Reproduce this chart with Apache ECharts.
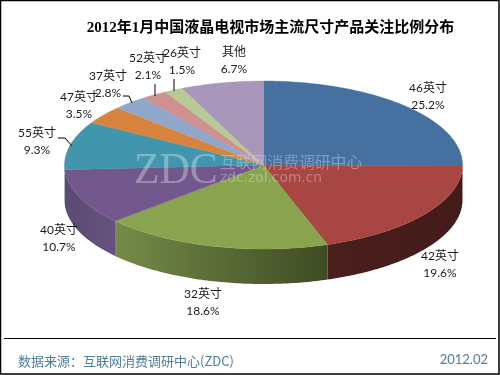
<!DOCTYPE html>
<html><head><meta charset="utf-8">
<style>html,body{margin:0;padding:0;background:#fff}#c{width:500px;height:375px}</style>
<script src="https://cdn.jsdelivr.net/npm/echarts@6/dist/echarts.min.js"></script>
</head><body><div id="c"></div>
<script>
const sizes = ['46英寸','42英寸','32英寸','40英寸','55英寸','47英寸','37英寸','52英寸','26英寸','其他'];
const shares = [25.2,19.6,18.6,10.7,9.3,3.5,2.8,2.1,1.5,6.7];
const topColors = ['#4670A0','#A84644','#89A34F','#71578C','#4196AE','#D8833D','#90A6CB','#CE9190','#B7CA95','#A897BA'];
const sideLeft = ['#3a5c84','#4a1f1d','#758B48','#5C4A72','#35798c','#a8652e','#7388a3','#a47372','#92a276','#867896'];
const sideRight = ['#3a5c84','#431B1A','#3F4B24','#66527F','#35798c','#a8652e','#7388a3','#a47372','#92a276','#867896'];
const titleText = '2012年1月中国液晶电视市场主流尺寸产品关注比例分布';
const sourceText = '数据来源：互联网消费调研中心(ZDC)';
const dateText = '2012.02';

const pie = {cx:263.5, cy:165, rx:199, ry:84, depth:35};
const labelSpots = [[428,88],[440,256],[203,294],[59,230],[37,133],[79,97],[108,76],[148,58],[182,53],[234,52]];
const leaders = [
  [[58,138],[65,138],[72,146]],
  [[123,96],[129,96],[132,103]],
  [[155,84],[155,96]],
  [[174,79],[174,91]]
];
const labelFont = '12px "Lato","Noto Sans CJK SC",sans-serif';

function pt(a, dy){ return [pie.cx + pie.rx*Math.sin(a), pie.cy - pie.ry*Math.cos(a) + (dy||0)]; }
function arc(a0, a1, dy){
  const n = Math.max(2, Math.ceil((a1-a0)/0.015)), out = [];
  for (let i=0;i<=n;i++) out.push(pt(a0+(a1-a0)*i/n, dy));
  return out;
}
const total = shares.reduce((s,v)=>s+v,0);
function range(i){
  let before = 0;
  for (let k=0;k<i;k++) before += shares[k];
  return [before/total*2*Math.PI, (before+shares[i])/total*2*Math.PI];
}

const chart = echarts.init(document.getElementById('c'), null, {renderer:'canvas'});
const rows = shares.map((v,i)=>[i,v]);

chart.setOption({
  animation:false,
  backgroundColor:'#fff',
  title:{text:titleText,left:265.5,top:15,textAlign:'center',
    textStyle:{fontFamily:'"Liberation Serif","Noto Sans CJK SC",serif',fontWeight:'bold',fontSize:15,color:'#000',lineHeight:17}},
  series:[
    {type:'custom',coordinateSystem:'none',z:1,silent:true,data:rows,
     renderItem(p,api){
       const i=api.value(0), r=range(i);
       const a0=Math.max(r[0],Math.PI/2), a1=Math.min(r[1],Math.PI*1.5);
       if(a1<=a0) return {type:'group',children:[]};
       const pts=arc(a0,a1,0).concat(arc(a0,a1,pie.depth).reverse());
       return {type:'polygon',shape:{points:pts},style:{
         fill:new echarts.graphic.LinearGradient(0,0,1,0,[{offset:0,color:sideLeft[i]},{offset:1,color:sideRight[i]}])}};
     }},
    {type:'custom',coordinateSystem:'none',z:2,silent:true,data:rows,
     renderItem(p,api){
       const i=api.value(0), r=range(i);
       const pts=[[pie.cx,pie.cy]].concat(arc(r[0],r[1],0));
       return {type:'polygon',shape:{points:pts},style:{fill:topColors[i],stroke:topColors[i],lineWidth:0.4}};
     }},
    {type:'custom',coordinateSystem:'none',z:5,silent:true,data:rows,
     renderItem(p,api){
       const i=api.value(0), s=labelSpots[i];
       return {type:'group',children:[
         {type:'text',style:{x:s[0],y:s[1],text:sizes[i],font:labelFont,fill:'#1a1a1a',align:'center',verticalAlign:'middle'}},
         {type:'text',style:{x:s[0],y:s[1]+17,text:api.value(1).toFixed(1)+'%',font:labelFont,fill:'#1a1a1a',align:'center',verticalAlign:'middle'}}
       ]};
     }}
  ],
  graphic:[
    {type:'rect',z:0,shape:{x:0.5,y:0.5,width:498.5,height:373.5},style:{fill:'none',stroke:'#000',lineWidth:1.5}},
    {type:'line',z:3,shape:{x1:4,y1:338.5,x2:496,y2:338.5},style:{stroke:'#000',lineWidth:1}},
    {type:'text',z:3,style:{x:18,y:361,text:sourceText,font:'13px "Noto Sans CJK SC",sans-serif',fill:'#4E7F98',verticalAlign:'middle'}},
    {type:'text',z:3,style:{x:488,y:360,text:dateText,font:'13px "Lato",sans-serif',fill:'#4E7F98',align:'right',verticalAlign:'middle'}},
    {type:'text',z:4,x:134,y:171,scaleX:0.93,style:{x:0,y:0,text:'ZDC',font:'45px "Liberation Serif",serif',fill:'rgba(255,255,255,0.32)',verticalAlign:'middle'}},
    {type:'text',z:4,style:{x:220,y:162,text:'互联网消费调研中心',font:'15.8px "Noto Sans CJK SC",sans-serif',fill:'rgba(255,255,255,0.3)',verticalAlign:'middle'}},
    {type:'text',z:4,style:{x:220,y:178,text:'zdc.zol.com.cn',font:'13.8px "DejaVu Sans",sans-serif',fill:'rgba(255,255,255,0.3)',verticalAlign:'middle'}}
  ].concat(leaders.map(l=>({type:'polyline',z:6,shape:{points:l},style:{fill:'none',stroke:'#000',lineWidth:1}})))
});
</script></body></html>
